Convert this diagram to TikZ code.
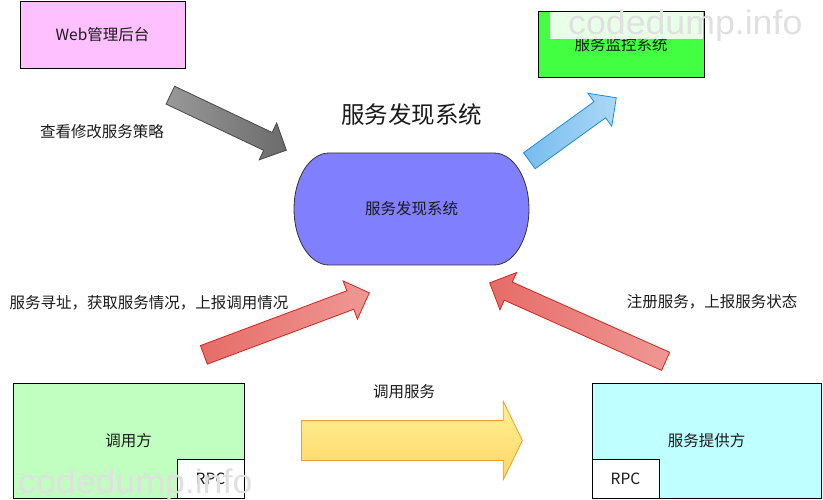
\documentclass[tikz,border=0pt]{standalone}
\usepackage{fontspec}
\setmainfont{Noto Sans CJK SC}
\newfontfamily\wmfont{Liberation Sans}
\usetikzlibrary{positioning,calc,shapes.arrows}
\definecolor{PinkBg}{RGB}{255,192,255}
\definecolor{MonGreen}{RGB}{66,255,66}
\definecolor{CallerBg}{RGB}{192,255,192}
\definecolor{ProvBg}{RGB}{192,255,255}
\definecolor{DiscBlue}{RGB}{128,128,255}
\definecolor{Ink}{RGB}{26,26,26}
\definecolor{Mark}{RGB}{224,224,224}
\tikzset{
  box/.style={draw=black,line width=1pt,text=Ink,inner sep=0pt,
    font=\fontsize{15.5}{18}\selectfont},
  rpcbox/.style={box,fill=white,minimum width=67pt,minimum height=39pt},
  lbl/.style={text=Ink,inner sep=0pt,font=\fontsize{15.5}{18}\selectfont},
  fatarrow/.style={single arrow,single arrow head extend=10.5pt,
    single arrow tip angle=90,inner xsep=0pt,inner ysep=9.5pt,
    minimum width=0pt,line width=0.8pt},
  grayflow/.style={left color=black!40,right color=black!58,draw=black!72},
  blueflow/.style={left color={rgb,255:red,118;green,188;blue,238},
    right color={rgb,255:red,172;green,216;blue,246},
    draw={rgb,255:red,30;green,140;blue,210}},
  redflow/.style={left color={rgb,255:red,230;green,108;blue,104},
    right color={rgb,255:red,240;green,152;blue,148},
    draw={rgb,255:red,204;green,40;blue,30}},
  yellowflow/.style={top color={rgb,255:red,255;green,240;blue,150},
    bottom color={rgb,255:red,255;green,214;blue,100},
    draw={rgb,255:red,240;green,160;blue,40},
    single arrow head extend=19.5pt,single arrow tip angle=128,
    inner ysep=19.5pt},
  wmark/.style={text=Mark,inner sep=0pt,xscale=1.05,
    font=\wmfont\fontsize{34}{34}\selectfont}
}
% block arrow from #1 to #2, style #3, name #4
\newcommand{\fatflow}[4]{%
  \path let \p1=($(#2)-(#1)$) in (#1) -- node[pos=0,sloped,allow upside down,
    anchor=tail,fatarrow,#3,minimum height={veclen(\x1,\y1)}] (#4) {} (#2);}

\begin{document}
\begin{tikzpicture}[x=1pt,y=-1pt]
\useasboundingbox (0,0) rectangle (823,500);

% boxes
\node[box,fill=PinkBg,minimum width=165pt,minimum height=66.5pt] (web) at (102.5,34.8) {Web管理后台};
\node[box,fill=MonGreen,minimum width=166pt,minimum height=66pt] (monitor) at (621,45) {服务监控系统};
\node[box,fill=CallerBg,minimum width=231pt,minimum height=115pt] (caller) at (128.5,440.5) {调用方};
\node[rpcbox,anchor=south east] (crpc) at (caller.south east) {RPC};
\node[box,fill=ProvBg,minimum width=229pt,minimum height=115pt] (provider) at (706.5,440.5) {服务提供方};
\node[rpcbox,anchor=south west] (prpc) at (provider.south west) {RPC};

% discovery
\draw[fill=DiscBlue,draw=black!80,line width=0.8pt] (329,153) -- (494,153)
  arc[start angle=-90,end angle=90,x radius=35,y radius=56] -- (329,265)
  arc[start angle=90,end angle=270,x radius=35,y radius=56] -- cycle;
\node[lbl] (disc) at (411.5,209) {服务发现系统};
\node[lbl,font=\fontsize{23.5}{28}\selectfont] (title) at (411.5,115) {服务发现系统};

% flows
\coordinate (g1) at (170,95);    \coordinate (g2) at (286,150);
\coordinate (b1) at (529,161);   \coordinate (b2) at (616,98);
\coordinate (r1) at (203.5,355); \coordinate (r2) at (369,293);
\coordinate (s1) at (666,361.5); \coordinate (s2) at (490,283);
\coordinate (y1) at (301,440.5); \coordinate (y2) at (522,440.5);
\fatflow{g1}{g2}{grayflow}{policy}
\fatflow{b1}{b2}{blueflow}{report}
\fatflow{r1}{r2}{redflow}{lookup}
\fatflow{s1}{s2}{redflow}{register}
\fatflow{y1}{y2}{yellowflow}{invoke}

% labels
\node[lbl] (policytxt) at (102,132) {查看修改服务策略};
\node[lbl] (lookuptxt) at (149,303) {服务寻址，获取服务情况，上报调用情况};
\node[lbl] (registertxt) at (712,302) {注册服务，上报服务状态};
\node[lbl] (invoketxt) at (404,392) {调用服务};

% watermark
\node[fill=white,opacity=0.88,minimum width=153pt,minimum height=27pt,inner sep=0pt] (wmbox) at (626.5,25.5) {};
\node[wmark,anchor=base west] (wmtop) at (568,35) {codedump.info};
\node[wmark,anchor=base west] (wmbot) at (18,493) {codedump.info};
\end{tikzpicture}
\end{document}
